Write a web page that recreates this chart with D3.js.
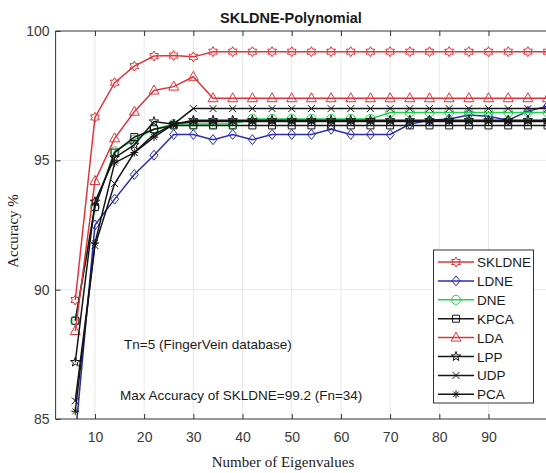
<!DOCTYPE html>
<html>
<head>
<meta charset="utf-8">
<script src="https://cdn.jsdelivr.net/npm/d3@7"></script>
<style>
  html, body { margin: 0; padding: 0; background: #fff; overflow: hidden; }
  svg { display: block; }
  .tick text { font-family: "Liberation Sans", Arial, sans-serif; font-size: 14px; fill: #3a3a3a; }
</style>
</head>
<body>
<div id="chart"></div>
<script>
// number of eigenvalues (Fn)
const fn = [6, 10, 14, 18, 22, 26, 30, 34, 38, 42, 46, 50, 54, 58, 62, 66, 70, 74, 78, 82, 86, 90, 94, 98, 102];

const skldne = [89.6, 96.66, 98.0, 98.64, 99.03, 99.05, 99.0, 99.2, 99.2, 99.2, 99.2, 99.2, 99.2, 99.2, 99.2, 99.2, 99.2, 99.2, 99.2, 99.2, 99.2, 99.2, 99.2, 99.2, 99.2];
const ldne = [84.3, 92.5, 93.5, 94.45, 95.2, 96.0, 96.0, 95.8, 96.0, 95.8, 96.0, 96.0, 96.0, 96.2, 96.0, 96.0, 96.0, 96.4, 96.55, 96.6, 96.75, 96.7, 96.55, 96.9, 97.1];
const dne = [88.8, 93.2, 95.35, 95.8, 96.2, 96.4, 96.4, 96.4, 96.4, 96.6, 96.6, 96.6, 96.6, 96.6, 96.6, 96.6, 96.85, 96.85, 96.85, 96.85, 96.85, 96.85, 96.85, 96.85, 96.85];
const kpca = [88.8, 93.2, 95.3, 95.9, 96.2, 96.35, 96.35, 96.35, 96.35, 96.35, 96.35, 96.35, 96.35, 96.35, 96.35, 96.35, 96.35, 96.35, 96.35, 96.35, 96.35, 96.35, 96.35, 96.35, 96.35];
const lda = [88.4, 94.2, 95.85, 96.88, 97.7, 97.85, 98.23, 97.4, 97.4, 97.4, 97.4, 97.4, 97.4, 97.4, 97.4, 97.4, 97.4, 97.4, 97.4, 97.4, 97.4, 97.4, 97.4, 97.4, 97.4];
const lpp = [87.2, 93.4, 95.1, 95.6, 96.5, 96.4, 96.55, 96.55, 96.55, 96.55, 96.55, 96.55, 96.55, 96.55, 96.55, 96.55, 96.55, 96.55, 96.55, 96.55, 96.55, 96.55, 96.55, 96.55, 96.55];
const udp = [85.7, 91.7, 94.1, 95.3, 96.0, 96.4, 97.0, 97.0, 97.0, 97.0, 97.0, 97.0, 97.0, 97.0, 97.0, 97.0, 97.0, 97.0, 97.0, 97.0, 97.0, 97.0, 97.0, 97.0, 97.0];
const pca = [85.3, 91.8, 94.9, 95.3, 95.9, 96.4, 96.5, 96.5, 96.5, 96.5, 96.5, 96.5, 96.5, 96.5, 96.5, 96.5, 96.5, 96.5, 96.5, 96.5, 96.5, 96.5, 96.5, 96.5, 96.5];

const seriesNames = ['SKLDNE', 'LDNE', 'DNE', 'KPCA', 'LDA', 'LPP', 'UDP', 'PCA'];
const xTicks = [10, 20, 30, 40, 50, 60, 70, 80, 90];
const yTicks = [85, 90, 95, 100];

const W = 546, H = 473;
const plotL = 55.6, plotT = 31, plotB = 419, plotR = 560;

const x = d3.scaleLinear().domain([2, 104]).range([plotL, 557.4]);
const y = d3.scaleLinear().domain([85, 100]).range([plotB, plotT]);

// marker shapes (MATLAB style, unfilled)
function hexagram(r) {
  const p = [];
  for (let k = 0; k < 12; k++) {
    const a = -Math.PI / 2 + k * Math.PI / 6;
    const rr = k % 2 === 0 ? r : r * 0.58;
    p.push([rr * Math.cos(a), rr * Math.sin(a)]);
  }
  return 'M' + p.join('L') + 'Z';
}
function pentagram(r) {
  const p = [];
  for (let k = 0; k < 10; k++) {
    const a = -Math.PI / 2 + k * Math.PI / 5;
    const rr = k % 2 === 0 ? r : r * 0.4;
    p.push([rr * Math.cos(a), rr * Math.sin(a)]);
  }
  return 'M' + p.join('L') + 'Z';
}
const markers = {
  hex: () => hexagram(5),
  diamond: () => 'M0,-5L4,0L0,5L-4,0Z',
  circle: () => 'M4.5,0A4.5,4.5 0 1,1 -4.5,0A4.5,4.5 0 1,1 4.5,0Z',
  square: () => 'M-3.5,-3.5H3.5V3.5H-3.5Z',
  triangle: () => 'M0,-5.5L5,3.5L-5,3.5Z',
  star: () => pentagram(5),
  x: () => 'M-3.5,-3.5L3.5,3.5M-3.5,3.5L3.5,-3.5',
  asterisk: () => 'M0,-4V4M-4,0H4M-2.8,-2.8L2.8,2.8M-2.8,2.8L2.8,-2.8'
};

const red = '#e0343a', blue = '#2c2cae', green = '#1fd44a', black = '#151515';
const series = [
  { name: seriesNames[0], values: skldne, color: red, marker: 'hex' },
  { name: seriesNames[1], values: ldne, color: blue, marker: 'diamond' },
  { name: seriesNames[2], values: dne, color: green, marker: 'circle' },
  { name: seriesNames[3], values: kpca, color: black, marker: 'square' },
  { name: seriesNames[4], values: lda, color: red, marker: 'triangle' },
  { name: seriesNames[5], values: lpp, color: black, marker: 'star' },
  { name: seriesNames[6], values: udp, color: black, marker: 'x' },
  { name: seriesNames[7], values: pca, color: black, marker: 'asterisk' }
];

const svg = d3.select('#chart').append('svg')
  .attr('width', W)
  .attr('height', H);

svg.append('defs').append('clipPath').attr('id', 'plotclip')
  .append('rect')
  .attr('x', plotL).attr('y', plotT - 6)
  .attr('width', plotR - plotL).attr('height', plotB - plotT + 6);

svg.append('rect')
  .attr('x', plotL).attr('y', plotT)
  .attr('width', plotR - plotL).attr('height', plotB - plotT)
  .attr('fill', '#fff');

// grid
const grid = svg.append('g');
grid.selectAll('.vg').data(xTicks).enter().append('line')
  .attr('x1', d => x(d)).attr('x2', d => x(d))
  .attr('y1', plotT).attr('y2', plotB)
  .attr('stroke', '#e8e8e8').attr('stroke-width', 1);
grid.selectAll('.hg').data(yTicks.slice(1, -1)).enter().append('line')
  .attr('x1', plotL).attr('x2', plotR)
  .attr('y1', d => y(d)).attr('y2', d => y(d))
  .attr('stroke', '#e8e8e8').attr('stroke-width', 1);

// series
const line = d3.line().x((d, i) => x(fn[i])).y(d => y(d));
const plot = svg.append('g').attr('clip-path', 'url(#plotclip)');
series.forEach(s => {
  const g = plot.append('g');
  g.append('path')
    .attr('d', line(s.values))
    .attr('fill', 'none')
    .attr('stroke', s.color)
    .attr('stroke-width', 1.5);
  g.selectAll('.m').data(s.values).enter().append('path')
    .attr('transform', (d, i) => `translate(${x(fn[i])},${y(d)})`)
    .attr('d', markers[s.marker]())
    .attr('fill', 'none')
    .attr('stroke', s.color)
    .attr('stroke-width', 1);
});

// axes box
svg.append('line').attr('x1', plotL).attr('x2', plotL).attr('y1', plotT).attr('y2', plotB)
  .attr('stroke', '#333').attr('stroke-width', 1);
svg.append('line').attr('x1', plotL).attr('x2', plotR).attr('y1', plotB).attr('y2', plotB)
  .attr('stroke', '#333').attr('stroke-width', 1);
svg.append('line').attr('x1', plotL).attr('x2', plotR).attr('y1', plotT).attr('y2', plotT)
  .attr('stroke', '#333').attr('stroke-width', 1);

const xAxis = svg.append('g')
  .attr('transform', `translate(0,${plotB})`)
  .call(d3.axisBottom(x).tickValues(xTicks).tickSize(-5).tickPadding(13).tickFormat(d3.format('d')));
xAxis.select('.domain').remove();
xAxis.selectAll('.tick line').attr('stroke', '#333');

const xTop = svg.append('g')
  .attr('transform', `translate(0,${plotT})`)
  .call(d3.axisTop(x).tickValues(xTicks).tickSize(-5).tickFormat(''));
xTop.select('.domain').remove();
xTop.selectAll('.tick line').attr('stroke', '#333');

const yAxis = svg.append('g')
  .attr('transform', `translate(${plotL},0)`)
  .call(d3.axisLeft(y).tickValues(yTicks).tickSize(-5).tickPadding(6).tickFormat(d3.format('d')));
yAxis.select('.domain').remove();
yAxis.selectAll('.tick line').attr('stroke', '#333');

// title and labels
svg.append('text')
  .attr('x', 291).attr('y', 23)
  .attr('text-anchor', 'middle')
  .attr('font-family', '"Liberation Sans", Arial, sans-serif')
  .attr('font-weight', 'bold')
  .attr('font-size', '14.5px')
  .attr('fill', '#1a1a1a')
  .text('SKLDNE-Polynomial');

svg.append('text')
  .attr('x', 283).attr('y', 467)
  .attr('text-anchor', 'middle')
  .attr('font-family', '"Liberation Serif", "Times New Roman", serif')
  .attr('font-size', '15px')
  .attr('fill', '#1a1a1a')
  .text('Number of Eigenvalues');

svg.append('text')
  .attr('transform', 'translate(18,231) rotate(-90)')
  .attr('text-anchor', 'middle')
  .attr('font-family', '"Liberation Serif", "Times New Roman", serif')
  .attr('font-size', '15px')
  .attr('fill', '#1a1a1a')
  .text('Accuracy %');

// annotations
svg.append('text')
  .attr('x', 124).attr('y', 349)
  .attr('font-family', '"Liberation Sans", Arial, sans-serif')
  .attr('font-size', '13.5px')
  .attr('fill', '#1a1a1a')
  .text('Tn=5 (FingerVein database)');

svg.append('text')
  .attr('x', 120).attr('y', 400)
  .attr('font-family', '"Liberation Sans", Arial, sans-serif')
  .attr('font-size', '13.5px')
  .attr('fill', '#1a1a1a')
  .text('Max Accuracy of SKLDNE=99.2 (Fn=34)');

// legend
const legend = svg.append('g');
legend.append('rect')
  .attr('x', 433.5).attr('y', 250)
  .attr('width', 100).attr('height', 153)
  .attr('fill', '#fff')
  .attr('stroke', '#333')
  .attr('stroke-width', 1);
series.forEach((s, i) => {
  const ly = 262 + i * 18.9;
  const g = legend.append('g');
  g.append('line')
    .attr('x1', 438).attr('x2', 474)
    .attr('y1', ly).attr('y2', ly)
    .attr('stroke', s.color).attr('stroke-width', 1.5);
  g.append('path')
    .attr('transform', `translate(456,${ly})`)
    .attr('d', markers[s.marker]())
    .attr('fill', 'none')
    .attr('stroke', s.color)
    .attr('stroke-width', 1);
  g.append('text')
    .attr('x', 477).attr('y', ly + 5)
    .attr('font-family', '"Liberation Sans", Arial, sans-serif')
    .attr('font-size', '13.5px')
    .attr('fill', '#1a1a1a')
    .text(s.name);
});
</script>
</body>
</html>
